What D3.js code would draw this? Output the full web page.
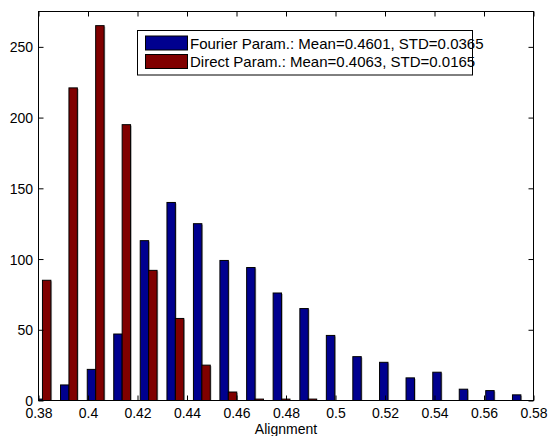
<!DOCTYPE html>
<html><head><meta charset="utf-8">
<script src="https://cdn.jsdelivr.net/npm/d3@7/dist/d3.min.js"></script>
<style>
html,body{margin:0;padding:0;background:#fff;}
svg{display:block;font-family:"Liberation Sans",Arial,Helvetica,sans-serif;}
</style></head>
<body><svg id="chart" width="548" height="436"></svg>
<script>
const binCenters = [0.3816, 0.3923, 0.4031, 0.4138, 0.4245, 0.4353, 0.4460, 0.4567, 0.4675, 0.4782,
                    0.4890, 0.4997, 0.5104, 0.5212, 0.5319, 0.5427, 0.5534, 0.5641, 0.5749];
const fourierCounts = [1, 11, 22, 47, 113, 140, 125, 99, 94, 76, 65, 46, 31, 27, 16, 20, 8, 7, 4];
const directCounts  = [85, 221, 265, 195, 92, 58, 25, 6, 1, 1, 1, 0, 0, 0, 0, 0, 0, 0, 0];
const seriesNames = ["Fourier Param.: Mean=0.4601, STD=0.0365", "Direct Param.: Mean=0.4063, STD=0.0165"];
const seriesColors = ["#00008f", "#800000"];
const xTicks = [0.38, 0.40, 0.42, 0.44, 0.46, 0.48, 0.50, 0.52, 0.54, 0.56, 0.58];
const yTicks = [0, 50, 100, 150, 200, 250];
const xLabel = "Alignment";

const svg = d3.select("#chart");
const L = 38.5, R = 533.5, T = 11.5, B = 400.5;
const x = d3.scaleLinear().domain([0.38, 0.58]).range([L, R]);
const y = d3.scaleLinear().domain([0, 275]).range([B, T]);
const barW = 0.0034;

svg.append("defs").append("clipPath").attr("id","plotclip")
  .append("rect").attr("x",L).attr("y",T).attr("width",R-L).attr("height",B-T);

const g = svg.append("g").attr("clip-path","url(#plotclip)");
const series = [fourierCounts, directCounts];
// soft shadows (as in the exported reference)
series.forEach((vals, si) => {
  g.selectAll(null).data(binCenters.map((c,i)=>({c, v: vals[i]})).filter(d=>d.v>0))
    .enter().append("rect")
    .attr("x", d => (si === 0 ? x(d.c - barW) : x(d.c)) + 1.2)
    .attr("width", d => x(d.c + barW) - x(d.c))
    .attr("y", d => y(d.v) + 1)
    .attr("height", d => Math.max(0, y(0) - y(d.v)))
    .attr("fill", "#b0b0b0");
});
series.forEach((vals, si) => {
  g.selectAll(null).data(binCenters.map((c,i)=>({c, v: vals[i]})))
    .enter().append("rect")
    .attr("x", d => si === 0 ? x(d.c - barW) : x(d.c))
    .attr("width", d => x(d.c + barW) - x(d.c))
    .attr("y", d => y(d.v))
    .attr("height", d => Math.max(0, y(0) - y(d.v)))
    .attr("fill", seriesColors[si])
    .attr("stroke", "#000")
    .attr("stroke-width", 1);
});

// axes box with inward ticks on all sides
const tickLen = 5;
const fmt = d => String(+d.toFixed(2));
const xb = d3.axisBottom(x).tickValues(xTicks).tickSize(-tickLen).tickFormat(fmt);
const xt = d3.axisTop(x).tickValues(xTicks).tickSize(-tickLen).tickFormat("");
const yl = d3.axisLeft(y).tickValues(yTicks).tickSize(-tickLen).tickFormat(d3.format("d"));
const yr = d3.axisRight(y).tickValues(yTicks).tickSize(-tickLen).tickFormat("");

function style(sel){
  sel.selectAll(".domain").remove();
  sel.selectAll("line").attr("stroke","#000");
  sel.selectAll("text").attr("fill","#000").attr("font-size","14px")
     .attr("font-family","'Liberation Sans',Arial,Helvetica,sans-serif");
}
svg.append("g").attr("transform",`translate(0,${B})`).call(xb).call(style)
  .selectAll("text").attr("y",17).attr("dy",0);
svg.append("g").attr("transform",`translate(0,${T})`).call(xt).call(style);
svg.append("g").attr("transform",`translate(${L},0)`).call(yl).call(style)
  .selectAll("text").attr("x",-5.5).attr("dy","0.36em");
svg.append("g").attr("transform",`translate(${R},0)`).call(yr).call(style);

svg.append("rect").attr("x",L).attr("y",T).attr("width",R-L).attr("height",B-T)
  .attr("fill","none").attr("stroke","#000").attr("stroke-width",1);

svg.append("text").attr("x",(L+R)/2).attr("y",434).attr("text-anchor","middle")
  .attr("font-size","14px").attr("fill","#000").text(xLabel);

// legend
const lg = svg.append("g");
lg.append("rect").attr("x",137.5).attr("y",30.5).attr("width",335).attr("height",44.5)
  .attr("fill","#fff").attr("stroke","#000").attr("stroke-width",1);
seriesNames.forEach((name,i)=>{
  const yy = 36 + i*18.5;
  lg.append("rect").attr("x",145.5).attr("y",yy).attr("width",42).attr("height",14)
    .attr("fill",seriesColors[i]).attr("stroke","#000").attr("stroke-width",1);
  lg.append("text").attr("x",190).attr("y",yy+12.5).attr("font-size","15px").attr("fill","#000").text(name);
});
</script></body></html>
